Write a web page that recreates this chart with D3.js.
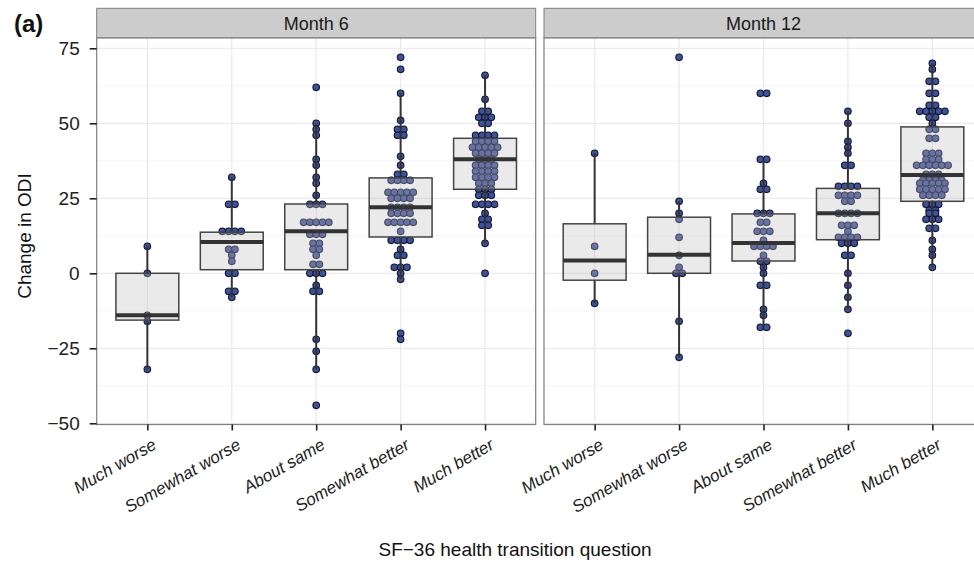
<!DOCTYPE html>
<html><head><meta charset="utf-8">
<script src="https://cdn.jsdelivr.net/npm/d3@7"></script>
<style>body{margin:0;background:#fff}svg{display:block;font-family:"Liberation Sans",Arial,sans-serif}</style>
</head><body><svg id="c" width="974" height="564"></svg>
<script>
const categories = ["Much worse","Somewhat worse","About same","Somewhat better","Much better"];
const panels = ["Month 6","Month 12"];
const yTicks = [-50,-25,0,25,50,75];

// Month 6 observed changes in ODI (one entry per dot)
const m6MuchWorse = [9,0,-14,-16,-32];
const m6SomewhatWorse = [32,23,23,14,14,14,14,8,8,6,4,0,0,-6,-6,-8];
const m6AboutSame = [62,50,48,46,38,36,32,30,26,23,23,23,17,17,17,17,17,13,13,13,10,10,8,8,6,3,3,0,0,0,-4,-6,-6,-22,-26,-32,-44];
const m6SomewhatBetter = [72,68,60,51,48,48,46,46,39,36,33,33,31,31,31,31,27,27,27,27,27,25,25,25,25,22,22,22,22,20,20,20,20,17,17,17,17,17,14,11,11,11,11,8,6,6,2,2,2,0,-2,-20,-22];
const m6MuchBetter = [66,58,54,54,52,52,52,50,50,46,46,46,46,44,44,44,44,42,42,42,42,42,40,40,40,40,38,38,38,36,36,36,36,34,34,34,34,32,32,32,32,30,30,30,28,28,28,26,26,26,23,23,23,23,20,18,18,16,16,10,0];

// Month 12 observed changes in ODI
const m12MuchWorse = [40,9,0,-10];
const m12SomewhatWorse = [72,24,20,18,12,6,2,0,0,-16,-28];
const m12AboutSame = [60,60,38,38,30,28,28,20,20,20,17,17,14,14,14,11,9,9,9,9,6,4,4,2,0,-4,-4,-12,-14,-18,-18];
const m12SomewhatBetter = [54,50,44,42,40,36,36,29,29,29,29,26,26,26,26,24,24,20,20,20,20,16,16,16,14,12,12,12,12,10,10,10,6,6,0,-4,-8,-12,-20];
const m12MuchBetter = [70,68,64,64,60,60,56,56,54,54,54,54,54,52,52,50,48,48,45,45,40,40,40,38,38,38,36,36,36,36,36,36,33,33,33,31,31,31,31,30,30,30,30,30,28,28,28,28,28,26,26,26,26,23,23,23,21,21,20,20,18,18,18,15,15,11,8,6,2];

// Box statistics: [lower whisker, Q1, median, Q3, upper whisker]
const m6Boxes = [[-32,-15.6,-14,0,9],[-8,1.2,10.4,13.7,32],[-32,1.2,14,23.1,50],[-2,12.1,22,31.8,60],[10,28,38,45,66]];
const m12Boxes = [[-10,-2.3,4.3,16.5,40],[-28,0,6.2,18.7,24],[-18,4.1,10.1,19.8,38],[-12,11.2,20,28.3,54],[2,24,32.8,48.8,70]];

const panelData = [
  {name: panels[0], values: [m6MuchWorse,m6SomewhatWorse,m6AboutSame,m6SomewhatBetter,m6MuchBetter], boxes: m6Boxes},
  {name: panels[1], values: [m12MuchWorse,m12SomewhatWorse,m12AboutSame,m12SomewhatBetter,m12MuchBetter], boxes: m12Boxes}
];

const svg = d3.select("#c");
const panelW = 439, panelTop = 38, panelBot = 424.5;
const panelX = [96.7, 544];
const y = d3.scaleLinear().domain([-50,75]).range([423.3,48.3]);
const minorTicks = [-37.5,-12.5,12.5,37.5,62.5];
const dotR = 3.3, dotStep = 6.3;

panelData.forEach((p, pi) => {
  const x0 = panelX[pi];
  const x = d3.scalePoint().domain(categories).range([x0, x0 + panelW]).padding(0.6);
  const bw = x.step() * 0.745;
  const g = svg.append("g");
  g.append("rect").attr("x", x0).attr("y", 8.3).attr("width", panelW).attr("height", panelTop - 8.3)
    .attr("fill", "#cccccc").attr("stroke", "#7f7f7f").attr("stroke-width", 1);
  g.append("text").attr("x", x0 + panelW / 2).attr("y", 29.5).attr("text-anchor", "middle")
    .attr("font-size", 18).attr("fill", "#1a1a1a").text(p.name);
  g.append("rect").attr("x", x0).attr("y", panelTop).attr("width", panelW).attr("height", panelBot - panelTop).attr("fill", "#fff");
  g.selectAll(".mn").data(minorTicks).enter().append("line")
    .attr("x1", x0).attr("x2", x0 + panelW).attr("y1", d => y(d)).attr("y2", d => y(d))
    .attr("stroke", "#f2f2f2").attr("stroke-width", 0.8);
  g.selectAll(".mj").data(yTicks).enter().append("line")
    .attr("x1", x0).attr("x2", x0 + panelW).attr("y1", d => y(d)).attr("y2", d => y(d))
    .attr("stroke", "#ebebeb").attr("stroke-width", 1.3);
  g.selectAll(".mx").data(categories).enter().append("line")
    .attr("x1", d => x(d)).attr("x2", d => x(d)).attr("y1", panelTop).attr("y2", panelBot)
    .attr("stroke", "#ebebeb").attr("stroke-width", 1.3);

  categories.forEach((c, ci) => {
    const cx = x(c);
    const groups = d3.groups(p.values[ci], v => v);
    groups.forEach(([v, arr]) => {
      const n = arr.length;
      arr.forEach((_, k) => {
        g.append("circle").attr("cx", cx + (k - (n - 1) / 2) * dotStep).attr("cy", y(v)).attr("r", dotR)
          .attr("fill", "#3a52a2").attr("stroke", "#15152a").attr("stroke-width", 1.1);
      });
    });
    const b = p.boxes[ci];
    g.append("line").attr("x1", cx).attr("x2", cx).attr("y1", y(b[4])).attr("y2", y(b[3]))
      .attr("stroke", "#333").attr("stroke-width", 2);
    g.append("line").attr("x1", cx).attr("x2", cx).attr("y1", y(b[1])).attr("y2", y(b[0]))
      .attr("stroke", "#333").attr("stroke-width", 2);
    g.append("rect").attr("x", cx - bw / 2).attr("y", y(b[3])).attr("width", bw).attr("height", y(b[1]) - y(b[3]))
      .attr("fill", "#bdbdbd").attr("fill-opacity", 0.32).attr("stroke", "#444").attr("stroke-width", 1.5);
    g.append("line").attr("x1", cx - bw / 2).attr("x2", cx + bw / 2).attr("y1", y(b[2])).attr("y2", y(b[2]))
      .attr("stroke", "#333").attr("stroke-width", 4);
  });
  g.append("rect").attr("x", x0).attr("y", panelTop).attr("width", panelW).attr("height", panelBot - panelTop)
    .attr("fill", "none").attr("stroke", "#7f7f7f").attr("stroke-width", 1.2);
  const xa = g.append("g").attr("transform", `translate(0,${panelBot})`)
    .call(d3.axisBottom(x).tickSize(6).tickFormat(""));
  xa.select(".domain").remove();
  xa.selectAll(".tick line").attr("stroke", "#222").attr("stroke-width", 1.6);
  g.selectAll(".xl").data(categories).enter().append("text")
    .attr("transform", d => `translate(${x(d) + 4},${panelBot + 13}) rotate(-30)`)
    .attr("text-anchor", "end").attr("dy", "0.72em").attr("font-size", 17).attr("font-style", "italic")
    .attr("fill", "#222").text(d => d);
});

const ya = svg.append("g").attr("transform", `translate(${panelX[0]},0)`)
  .call(d3.axisLeft(y).tickValues(yTicks).tickSize(7).tickPadding(10));
ya.select(".domain").remove();
ya.selectAll(".tick line").attr("stroke", "#222").attr("stroke-width", 1.6);
ya.selectAll(".tick text").attr("font-size", 19).attr("fill", "#222").attr("font-family", "Liberation Sans, Arial, sans-serif");

svg.append("text").attr("transform", "translate(31,236) rotate(-90)").attr("text-anchor", "middle")
  .attr("font-size", 19).attr("fill", "#111").text("Change in ODI");
svg.append("text").attr("x", 515).attr("y", 556).attr("text-anchor", "middle")
  .attr("font-size", 19).attr("fill", "#111").text("SF\u221236 health transition question");
svg.append("text").attr("x", 14).attr("y", 32).attr("font-size", 24).attr("font-weight", "bold")
  .attr("fill", "#111").text("(a)");
</script></body></html>
